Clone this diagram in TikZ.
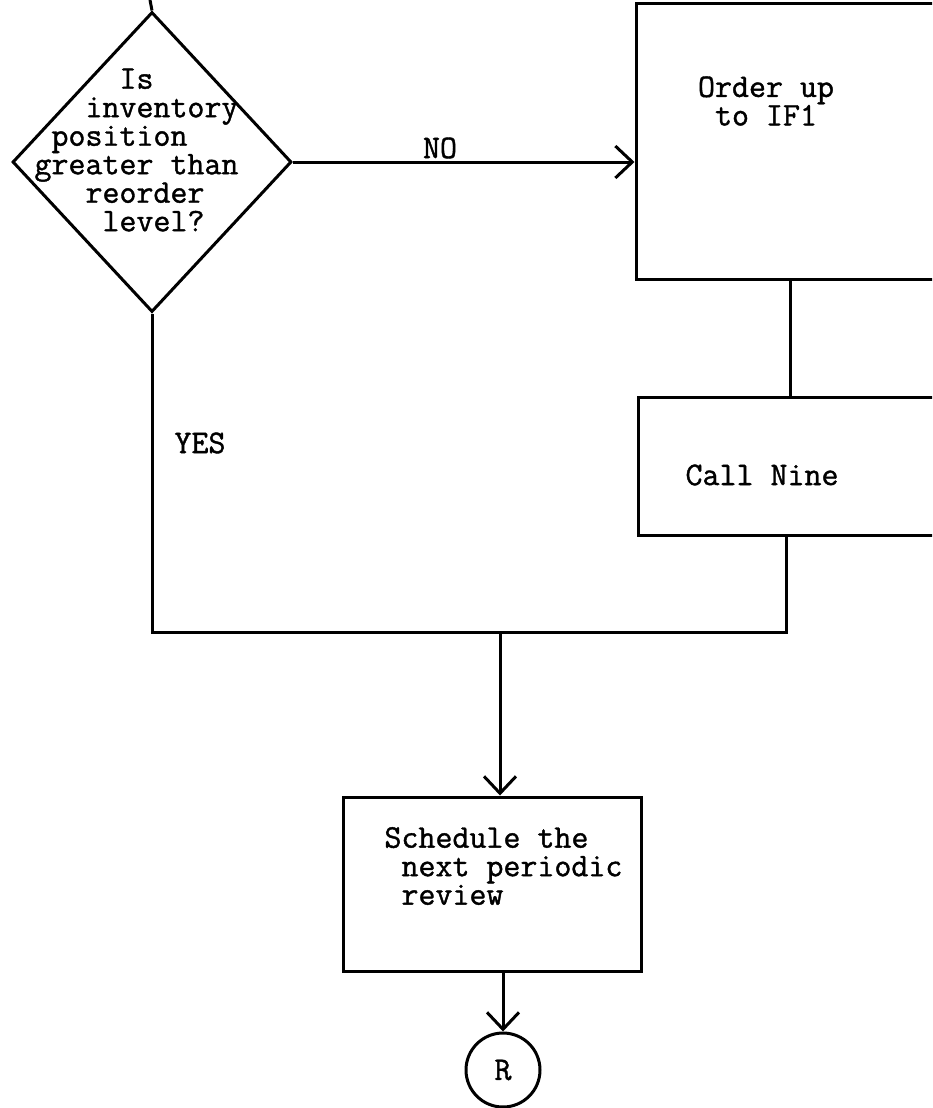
\documentclass[tikz,border=0pt]{standalone}
\usepackage{fontspec}
\newfontfamily\tw{Latin Modern Mono}[FakeBold=1.2]
\usetikzlibrary{arrows.meta,shapes.geometric}
\begin{document}
\begin{tikzpicture}[x=1pt,y=-1pt,line width=3pt,
  txt/.style={font=\tw\fontsize{33}{28.5}\selectfont, inner sep=0pt, align=center},
  decision/.style={draw, diamond, minimum width=279pt, minimum height=300pt, inner sep=0pt},
  procbox/.style={draw, rectangle, inner sep=0pt},
  conn/.style={draw, circle, minimum size=74pt, inner sep=0pt},
  arr/.style={-{Straight Barb[length=17pt,width=32pt]}}]
\useasboundingbox (0,0) rectangle (932,1108);
\clip (0,0) rectangle (932,1108);
% nodes
\node[decision] (d) at (152,162) {};
\node[txt, align=left, anchor=west] (dt) at (33,150)
  {\phantom{XXXXX}Is\\\phantom{XXX}inventory\\\phantom{X}position\\greater than\\\phantom{XXX}reorder\\\phantom{XXXX}level?};
\node[procbox, minimum width=330pt, minimum height=275pt] (b1) at (801,141.5) {};
\node[txt] (t1) at (766,101) {Order up\\to IF1};
\node[procbox, minimum width=330pt, minimum height=138pt] (b2) at (803,466) {};
\node[txt] (t2) at (762,475) {Call Nine};
\node[procbox, minimum width=298pt, minimum height=174pt] (b3) at (492,884) {};
\node[txt, align=left, anchor=west] (t3) at (383,866) {Schedule the\\\phantom{X}next periodic\\\phantom{X}review};
\node[conn] (r) at (503,1070) {};
\node[txt] (rt) at (r.center) {R};
\node[txt] (no) at (440,148) {NO};
\node[txt] (yes) at (200,443) {YES};
% coordinates
\coordinate (top) at (150,0);
\coordinate (c1) at (790,0);
\coordinate (c2) at (786,0);
\coordinate (j) at (500,632);
% connectors
\draw (top) -- (d.north);
\draw[arr] (d.east) -- (d.east -| b1.west);
\draw (b1.south -| c1) -- (b2.north -| c1);
\draw (b2.south -| c2) -- (c2 |- j) -- (d.south |- j) -- (d.south);
\draw[arr] (j) -- (j |- b3.north);
\draw[arr] (b3.south -| r.north) -- (r.north);
\end{tikzpicture}
\end{document}
